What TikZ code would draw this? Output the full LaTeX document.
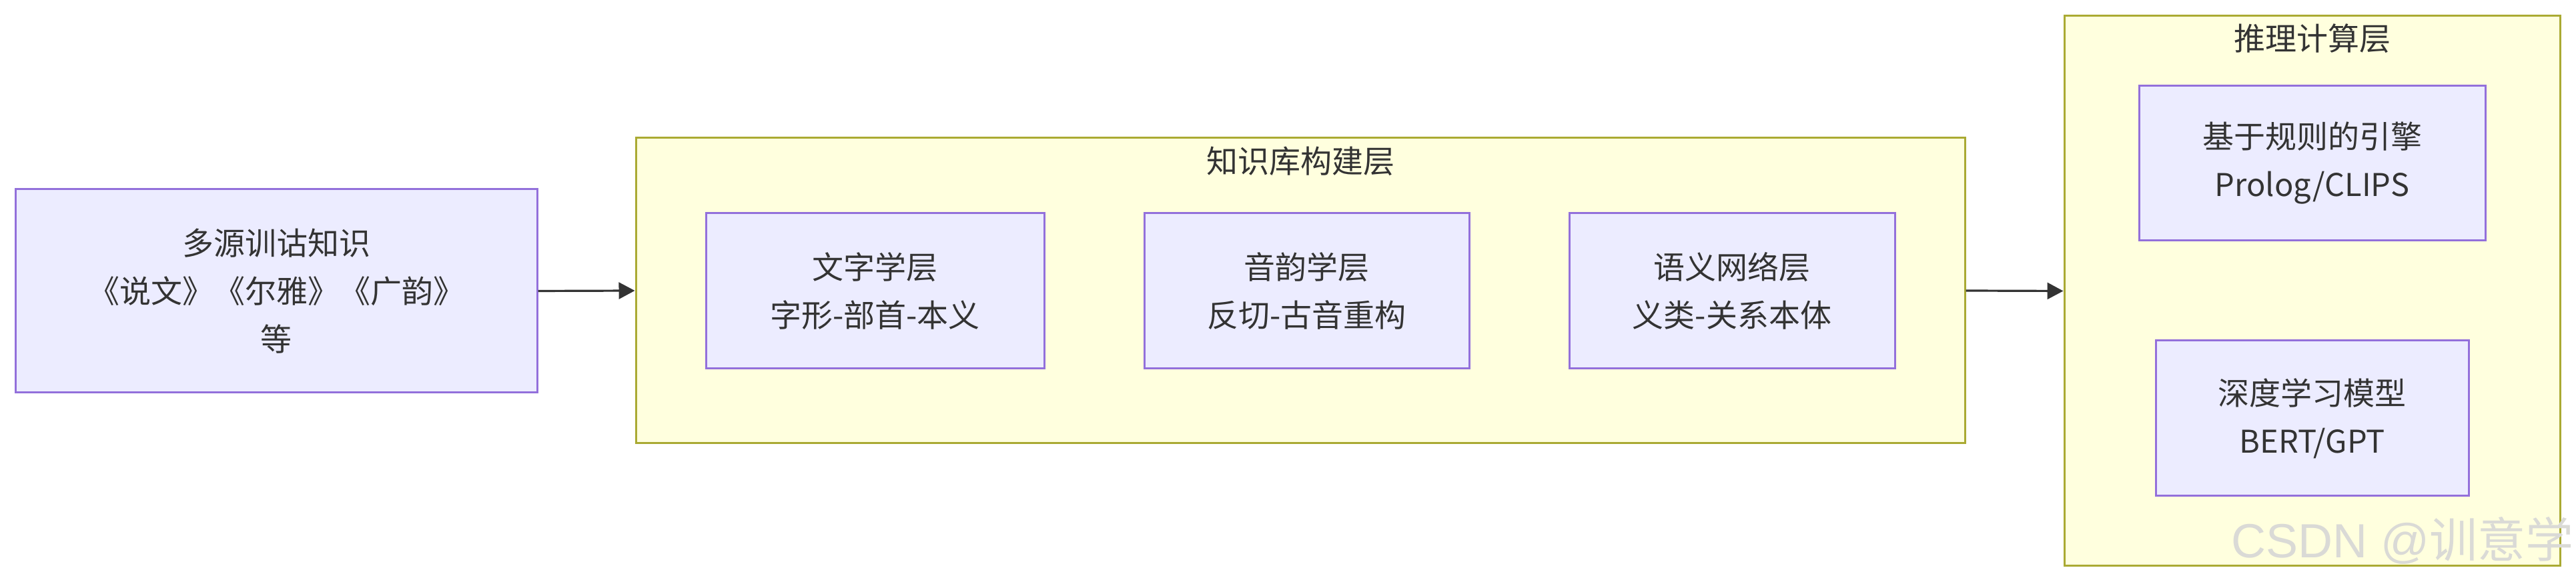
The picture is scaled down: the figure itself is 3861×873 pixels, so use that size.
\documentclass[tikz,border=0pt]{standalone}
\usepackage{fontspec}
\setmainfont{Noto Sans CJK SC}
\newfontfamily\wmfont{Liberation Sans}
\newfontfamily\wmcjk{Noto Sans CJK SC}
\usetikzlibrary{arrows.meta}
\definecolor{boxfill}{HTML}{ECECFF}
\definecolor{boxline}{HTML}{9370DB}
\definecolor{clfill}{HTML}{FFFFDE}
\definecolor{clline}{HTML}{AAAA33}
\definecolor{txt}{HTML}{333333}
\definecolor{wm}{HTML}{DADAD6}
\tikzset{
  box/.style={draw=boxline, fill=boxfill, line width=0.75pt, inner sep=0pt, align=center,
    text=txt, font=\fontsize{11.75pt}{18pt}\selectfont},
  cluster/.style={draw=clline, fill=clfill, line width=0.75pt, inner sep=0pt},
  cltitle/.style={text=txt, inner sep=0pt, font=\fontsize{11.75pt}{18pt}\selectfont},
  arr/.style={draw=txt, line width=0.8pt, -{Triangle[length=6pt,width=6.2pt]}},
}
\begin{document}
\begin{tikzpicture}[x=0.25pt,y=-0.25pt]
\useasboundingbox[fill=white] (0,0) rectangle (3861,873);
% clusters
\node[cluster, minimum width=498pt, minimum height=114.5pt] (c1) at (1949,436) {};
\node[cluster, minimum width=185.75pt, minimum height=206.25pt] (c2) at (3465.5,436.5) {};
\node[cltitle] (t1) at (1949,242) {知识库构建层};
\node[cltitle] (t2) at (3465.5,58) {推理计算层};
% nodes
\node[box, minimum width=195.5pt, minimum height=76.25pt] (src) at (414,436.5)
  {多源训诂知识\\《说文》《尔雅》《广韵》\\等};
\node[box, minimum width=126.75pt, minimum height=58.25pt] (b1) at (1311.5,436.5)
  {文字学层\\字形-部首-本义};
\node[box, minimum width=121.75pt, minimum height=58.25pt] (b2) at (1958.5,436.5)
  {音韵学层\\反切-古音重构};
\node[box, minimum width=122pt, minimum height=58.25pt] (b3) at (2596,436.5)
  {语义网络层\\义类-关系本体};
\node[box, minimum width=129.75pt, minimum height=58pt] (r1) at (3465.5,245)
  {基于规则的引擎\\Prolog/CLIPS};
\node[box, minimum width=117.25pt, minimum height=58.25pt] (r2) at (3465.5,627.5)
  {深度学习模型\\BERT/GPT};
% connectors
\draw[arr] (src.east) -- (c1.west);
\draw[arr] (c1.east) -- (c2.west);
% watermark
\node[anchor=base west, inner sep=0pt, text=wm, font=\fontsize{18pt}{18pt}\selectfont] (wm) at (3344,837)
  {\wmfont CSDN @\wmcjk 训意学};
\end{tikzpicture}
\end{document}
